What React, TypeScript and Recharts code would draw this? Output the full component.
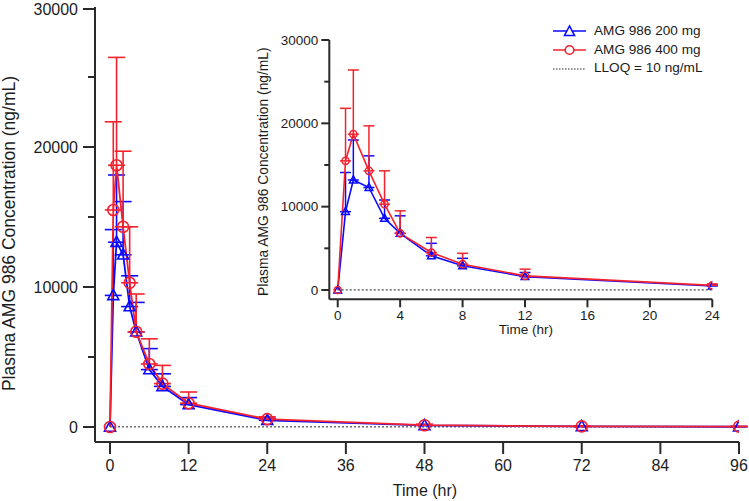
import React from "react";
import { ComposedChart, Line, XAxis, YAxis, ErrorBar, ReferenceLine } from "recharts";

const times = [0, 0.5, 1, 2, 3, 4, 6, 8, 12, 24, 48, 72, 96];
const mean200 = [0, 9400, 13200, 12300, 8600, 6800, 4100, 2900, 1600, 480, 110, 40, 20];
const sd200 = [0, 4700, 4800, 3800, 2200, 2100, 1500, 900, 500, 150, 60, 30, 15];
const mean400 = [0, 15500, 18700, 14300, 10300, 6800, 4500, 3100, 1700, 560, 130, 45, 25];
const sd400 = [0, 6300, 7700, 5400, 4000, 2700, 1800, 1300, 800, 170, 70, 35, 20];
const lloq = 10;

const mainXTicks = [0, 12, 24, 36, 48, 60, 72, 84, 96];
const insetXTicks = [0, 4, 8, 12, 16, 20, 24];
const yTicks = [0, 5000, 10000, 15000, 20000, 25000, 30000];

const seriesNames = ["AMG 986 200 mg", "AMG 986 400 mg", "LLOQ = 10 ng/mL"];
const yTitle = "Plasma AMG 986 Concentration (ng/mL)";
const xTitle = "Time (hr)";

const BLUE = "#0a0aff";
const RED = "#f5222d";
const AXIS = "#2a2a2a";
const TEXT = "#1c1c1c";
const FONT = "'Liberation Sans', Arial, sans-serif";

const rows = times.map((t, i) => ({
  t,
  b: mean200[i],
  bErr: sd200[i] ? [0, sd200[i]] : null,
  r: mean400[i],
  rErr: sd400[i] ? [0, sd400[i]] : null,
}));
const insetRows = rows.filter((d) => d.t <= 24);

const makeYTick =
  (size: number, minor: number, margin: number, fontSize: number) => (props: any) => {
    const { x, y, payload } = props;
    const axisX = x + size + margin;
    const major = payload.value % 10000 === 0;
    return (
      <g>
        <line x1={axisX} x2={axisX - (major ? size : minor)} y1={y} y2={y} stroke={AXIS} strokeWidth={2} />
        {major && (
          <text x={x} y={y} dy="0.355em" textAnchor="end" fill={TEXT} fontSize={fontSize}>
            {payload.value}
          </text>
        )}
      </g>
    );
  };

const triangleDot = (s: number, w: number) => (props: any) => {
  const { cx, cy, index } = props;
  if (cx == null || cy == null) return <g key={`tri-${index}`} />;
  const pts = `${cx},${cy - s * 0.6} ${cx - s * 0.55},${cy + s * 0.42} ${cx + s * 0.55},${cy + s * 0.42}`;
  return <polygon key={`tri-${index}`} points={pts} fill="none" stroke={BLUE} strokeWidth={w} />;
};

const circleDot = (r: number, w: number) => (props: any) => {
  const { cx, cy, index } = props;
  if (cx == null || cy == null) return <g key={`cir-${index}`} />;
  return <circle key={`cir-${index}`} cx={cx} cy={cy} r={r} fill="none" stroke={RED} strokeWidth={w} />;
};

const LegendBox = () => (
  <div style={{ position: "absolute", left: 552, top: 22, fontSize: 13.6, color: TEXT, lineHeight: "18.7px" }}>
    {seriesNames.map((name, i) => (
      <div key={name} style={{ display: "flex", alignItems: "center", height: 18.7 }}>
        <svg width={36} height={14} style={{ marginRight: 6 }}>
          {i < 2 ? (
            <line x1={1} x2={34} y1={7} y2={7} stroke={i === 0 ? BLUE : RED} strokeWidth={1.6} />
          ) : (
            <line x1={1} x2={34} y1={7} y2={7} stroke="#222" strokeWidth={1} strokeDasharray="1.5 1.5" />
          )}
          {i === 0 && <polygon points="17.5,2 12.5,11.5 22.5,11.5" fill="#fff" stroke={BLUE} strokeWidth={1.6} />}
          {i === 1 && <circle cx={17.5} cy={7} r={4.3} fill="#fff" stroke={RED} strokeWidth={1.6} />}
        </svg>
        <span>{name}</span>
      </div>
    ))}
  </div>
);

export default function App() {
  return (
    <div style={{ position: "absolute", left: 0, top: 0, width: 749, height: 501, background: "#fff", fontFamily: FONT }}>
      <div style={{ position: "absolute", left: 0, top: 0 }}>
        <ComposedChart width={749} height={501} data={rows} margin={{ top: 7, right: 10, bottom: 0, left: 0 }}>
          <XAxis
            type="number"
            dataKey="t"
            domain={[-2.29, 96]}
            allowDataOverflow
            ticks={mainXTicks}
            height={59}
            tickSize={12}
            tickMargin={6}
            axisLine={{ stroke: AXIS, strokeWidth: 2 }}
            tickLine={{ stroke: AXIS, strokeWidth: 2 }}
            tick={{ fill: TEXT, fontSize: 16 }}
            label={{ value: xTitle, position: "insideBottom", offset: 5, dx: 8, fill: TEXT, fontSize: 16 }}
          />
          <YAxis
            type="number"
            domain={[-1071, 30000]}
            allowDataOverflow
            ticks={yTicks}
            width={95}
            tickSize={12}
            tickMargin={5}
            tickLine={false}
            axisLine={{ stroke: AXIS, strokeWidth: 2 }}
            tick={makeYTick(12, 7, 5, 16)}
            label={{
              value: yTitle,
              angle: -90,
              position: "insideLeft",
              dx: 4,
              dy: 9,
              fill: TEXT,
              fontSize: 17.5,
              style: { textAnchor: "middle" },
            }}
          />
          <ReferenceLine
            segment={[{ x: 0, y: lloq }, { x: 96, y: lloq }]}
            stroke="#222"
            strokeWidth={1}
            strokeDasharray="2 2"
          />
          <Line
            dataKey="b"
            stroke={BLUE}
            strokeWidth={1.8}
            dot={triangleDot(10, 1.6)}
            isAnimationActive={false}
          >
            <ErrorBar dataKey="bErr" direction="y" width={8.5} stroke={BLUE} strokeWidth={1.6} isAnimationActive={false} />
          </Line>
          <Line
            dataKey="r"
            stroke={RED}
            strokeWidth={1.8}
            dot={circleDot(5.5, 1.6)}
            isAnimationActive={false}
          >
            <ErrorBar dataKey="rErr" direction="y" width={8.5} stroke={RED} strokeWidth={1.6} isAnimationActive={false} />
          </Line>
        </ComposedChart>
      </div>

      <div style={{ position: "absolute", left: 240, top: 0 }}>
        <ComposedChart width={490} height={345} data={insetRows} margin={{ top: 40, right: 17.7, bottom: 0, left: 0 }}>
          <XAxis
            type="number"
            dataKey="t"
            domain={[-0.54, 24]}
            allowDataOverflow
            ticks={insetXTicks}
            height={45.7}
            tickSize={8}
            tickMargin={3.5}
            axisLine={{ stroke: AXIS, strokeWidth: 2 }}
            tickLine={{ stroke: AXIS, strokeWidth: 2 }}
            tick={{ fill: TEXT, fontSize: 13.5 }}
            label={{ value: xTitle, position: "insideBottom", offset: 11, dx: 5, fill: TEXT, fontSize: 13.5 }}
          />
          <YAxis
            type="number"
            domain={[-1116, 30000]}
            allowDataOverflow
            ticks={yTicks}
            width={89.3}
            tickSize={8}
            tickMargin={3}
            tickLine={false}
            axisLine={{ stroke: AXIS, strokeWidth: 2 }}
            tick={makeYTick(8, 5, 3, 13.5)}
            label={{
              value: yTitle,
              angle: -90,
              position: "insideLeft",
              dx: 18,
              dy: 2,
              fill: TEXT,
              fontSize: 13.8,
              style: { textAnchor: "middle" },
            }}
          />
          <ReferenceLine
            segment={[{ x: 0, y: lloq }, { x: 24, y: lloq }]}
            stroke="#222"
            strokeWidth={1}
            strokeDasharray="2 2"
          />
          <Line
            dataKey="b"
            stroke={BLUE}
            strokeWidth={1.6}
            dot={triangleDot(7, 1.5)}
            isAnimationActive={false}
          >
            <ErrorBar dataKey="bErr" direction="y" width={5.5} stroke={BLUE} strokeWidth={1.5} isAnimationActive={false} />
          </Line>
          <Line
            dataKey="r"
            stroke={RED}
            strokeWidth={1.6}
            dot={circleDot(3.6, 1.5)}
            isAnimationActive={false}
          >
            <ErrorBar dataKey="rErr" direction="y" width={5.5} stroke={RED} strokeWidth={1.5} isAnimationActive={false} />
          </Line>
        </ComposedChart>
      </div>

      <LegendBox />
    </div>
  );
}
